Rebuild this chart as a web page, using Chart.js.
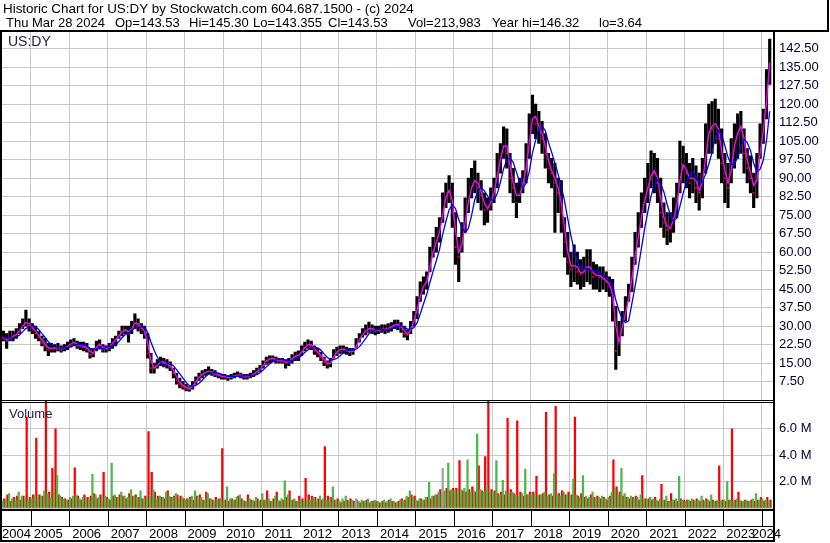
<!DOCTYPE html>
<html lang="en">
<head>
<meta charset="UTF-8">
<title>Historic Chart for US:DY</title>
<script src="https://cdn.jsdelivr.net/npm/chart.js"></script>
<style>
  body { margin: 0; background: #fff; }
  #chart { display: block; }
</style>
</head>
<body>
<canvas id="chart" width="830" height="543"></canvas>
<script>
// one bar per month, Mar 2004 .. Mar 2024
const firstYear = 2004;
const firstMonth = 2; // 0 = January

const priceHigh = [
  28,28,27,28,28,29,31,33,36.5,33,
  31,30,28,26,25,23,23,22.5,23,22,22.5,23.5,
  24.5,25,24,23.5,23.5,23,21,21,24,24.5,22.5,22,
  23,25,26,28,30,30,30,32,35,33,31,30,
  27,19,15,16.5,17.5,17,16.5,15.5,13,11,9,7.5,
  6.5,5.5,7.5,9.5,11,12,12.5,13.5,12.5,12,11,10.5,
  10.5,10,10.5,11,11.5,11,10.5,10.5,11,12,13,14,
  16,17.5,18,18,17.5,17,17,16.5,17,18.5,19.5,20,
  22,23.5,24.5,24,22,21,19.5,17.5,16,17,20.5,21.5,
  22,22,21.5,21,21,25,27,29,30.5,31.7,30.5,30,
  30,30.5,30.5,31,31.5,32.5,32.5,31.5,30,28.5,32,36,
  42,48,50,52,62,66,70,74,84,88,91,88,
  76,66,72,82,90,94,97,92,89,84,82,86,
  90,100,104,110.8,110,100,94,88,90,93,104,116,
  123.6,120,117,113,108,100,98,96,90,89,74,68,
  60,63,60,57,58,61,61,56,55,54,54,52,
  50,49,38,32,36,42,47,58,68,76,84,90,
  96,101,100,98,90,80,76,76,82,88,105,103,
  100,96,98,95,92,98,112,120,121,122,118,110,
  100,96,106,112,116,117,110,102,99,92,100,112,
  118,134,146.3
];
const priceLow = [
  23,24,21,24,24,25,27,29,30,28,
  27,25,24,22,20,18,19.5,19.5,20,19.5,20,20.5,
  21.5,22,21,20.5,20,19.5,17,17.5,20,21,19.5,19.5,
  20,21,22,25,26,27,23.5,27,29,28,27,25,
  17,11,11,13,14,13.5,13,12,9,6.5,5,4.5,
  3.8,3.64,4.5,6.5,8,9,10,10.5,10,9.5,9,8.5,
  8.5,8,8.5,9,9.5,9,8.5,8.5,9,9.5,10.5,11.5,
  13,14.5,15,15.5,15,15,15,13,14,15,16,16,
  18,20,21,20.5,18.5,17.5,16,14,13,13.5,17,18,
  19,19,18.5,18,18.5,21.5,23.5,25.5,26.5,27.5,27,26.5,
  27,27.5,27,27.5,28,29,28.5,27.5,25.5,24.4,27,30,
  33,40,43,45,52,58,60,64,72,78,80,70,
  55,48,60,68,76,82,84,80,77,71,72,77,
  80,86,92,98,94,84,80,74,80,84,88,98,
  108,106,104,100,94,88,86,68,76,68,58,51,
  46,48,47,45,46,48,47,45,45,44,45,44,
  42,32,12.5,18,26,32,40,44,55,62,70,76,
  80,86,84,80,70,66,63,64,68,74,84,88,
  86,82,84,80,77,82,92,100,100,104,98,88,
  80,78,88,94,98,100,92,88,84,78,82,98,
  104,114,128
];
const priceClose = [
  26,25,24,26,26,27,29,31,32,30,
  29,27,25.5,23.5,22,20.5,21.5,21,21.5,20.5,21.5,22,
  23.5,23.5,22,22,21.5,21,18.5,19.5,23,22.5,20.5,21,
  22,24,25,27,28.5,28.5,27,30.5,32,30,29,27,
  19,13,13,15,16,15,14.5,13.5,11,8,6.5,5.5,
  5,4.5,6.5,8.5,10,11,11.5,12,11,10.5,10,9.5,
  9.5,9,9.5,10,10.5,10,9.5,9.5,10,11,12,13,
  15,16.5,17,17,16,16,16,15,16,17.5,18,18.5,
  20.5,22,23,22,20,19,17.5,15.5,14.5,15.5,19,20,
  21,20.5,20,19.5,20,23.5,25.5,27.5,28.5,29.5,28.5,28,
  28.5,29,28.5,29.5,30,31,30.5,29.5,27,26.5,30,34,
  39,45,47,49,58,62,66,70,80,84,86,76,
  62,58,68,76,84,88,90,86,83,77,78,82,
  86,95,100,106,100,90,86,80,86,89,98,110,
  118,112,110,106,100,94,92,88,84,76,64,56,
  53,56,52,51,53,55,53,50,51,50,49,48,
  46,40,20,27,32,38,44,54,62,70,78,84,
  88,94,92,88,76,72,69,70,76,82,96,95,
  92,88,92,86,84,92,104,112,110,114,106,96,
  90,86,100,106,110,112,100,94,90,84,94,106,
  112,130,143.5
];

// volume in millions of shares
const volUp = [
  .8,.5,.6,1.1,.7,.6,1.2,.9,.7,.6,
  .7,1.0,.8,.9,1.3,1.1,.8,1.2,2.5,.9,.7,.6,
  .8,.9,1.0,.7,.8,.6,.7,2.55,1.0,.8,.6,.9,
  .7,3.4,1.0,.8,1.2,.9,.8,1.4,.9,.8,1.3,.7,
  .8,.9,1.4,.7,.9,.8,1.2,.9,.8,1.1,.7,.8,
  .6,.7,.9,1.3,.7,.8,.6,1.1,.7,.5,.6,.7,
  .5,1.6,.7,.6,.8,1.0,.6,.5,.7,.6,.8,.5,
  1.1,.6,.7,.5,.9,.6,.7,2.05,1.0,.6,.7,.5,
  .6,.5,.7,.6,.8,.5,.9,.7,.6,.5,1.6,.6,
  .5,.7,.9,.5,.6,.4,.5,.6,.5,.7,.5,.6,
  .5,.4,.6,.5,.7,.5,.4,.6,.5,.9,1.3,.8,
  .6,.7,.6,.8,1.95,.9,1.0,1.2,1.0,1.3,3.4,1.4,
  1.3,1.2,1.4,1.5,3.65,1.2,1.3,5.6,1.4,1.2,1.6,1.3,
  1.2,3.6,1.0,2.1,1.3,1.1,1.2,1.0,.9,1.1,2.95,1.0,
  1.0,1.1,.9,1.0,1.2,.9,1.1,2.6,1.0,.9,1.2,1.0,
  .9,2.2,1.0,.8,2.45,.9,.8,1.2,.7,.8,.9,.7,
  .8,1.2,1.5,1.0,3.0,1.1,.8,.9,.7,.8,1.0,.7,
  .6,.8,.7,.6,.7,.6,.9,.5,.6,.7,2.4,.6,
  .5,.6,.7,.5,.6,.9,.5,.6,1.0,.5,.6,.5,
  .6,2.0,.6,.5,.7,.6,.5,.6,.5,.7,1.1,.6,
  .7,.6,.5
];
const volDown = [
  .6,.7,1.0,.5,.8,.9,.6,.9,6.9,.8,
  1.0,5.3,1.0,.9,8.5,1.2,3.0,6.0,1.0,.8,.7,.6,
  .7,3.05,.9,.6,1.0,.8,.9,1.1,.7,1.0,2.7,.8,
  .6,.9,.8,1.0,.9,.7,1.1,.9,1.0,.8,.7,.9,
  5.8,2.7,1.2,.9,.8,.7,1.3,.8,.9,1.0,.9,.7,
  .7,.8,.6,.9,1.0,.6,1.2,.7,.6,.8,.7,4.5,
  .6,.5,.7,.6,.9,.7,.5,1.0,.6,.5,.7,.6,
  .6,1.3,.5,.7,1.2,.5,.6,.8,1.3,.6,.5,.9,
  .7,2.25,1.0,.9,.8,.7,.6,4.65,.9,.8,.6,.7,
  .4,.5,.6,.7,.5,.6,.4,.5,.6,.4,.5,.5,
  .4,.5,.4,.6,.5,.4,.5,.7,.6,.8,1.0,.9,
  .5,.7,.6,.8,.7,.9,1.0,1.4,1.2,1.5,1.3,1.5,
  1.5,3.6,1.3,1.2,1.4,1.6,1.2,3.2,1.3,3.9,8.5,1.4,
  1.3,1.1,1.2,1.0,6.8,1.4,1.1,6.6,1.2,.9,1.0,1.2,
  1.2,2.4,1.0,1.1,7.25,1.0,.9,7.7,1.1,1.3,1.0,1.2,
  1.0,6.9,.9,1.1,.8,.7,1.0,.8,.9,.7,.8,.6,
  .9,3.65,1.6,1.2,.9,.8,.7,.8,.9,.6,2.45,.7,
  .7,.6,.8,.5,1.8,.6,.5,1.1,.6,.5,.7,.6,
  .6,.5,.6,.7,.5,.6,.7,.5,.6,.5,3.2,.6,
  .5,.6,6.0,.6,1.2,.5,.6,.5,.6,.5,.6,.8,
  .5,.8,.6
];
// unchanged-close volume (grey bars)
const volFlatMonths = ['2013-06', '2015-09'];
const volFlatValues = [0.7, 3.0];

const yearLabels = ['2004','2005','2006','2007','2008','2009','2010','2011','2012','2013','2014',
                    '2015','2016','2017','2018','2019','2020','2021','2022','2023','2024'];
const priceTicks = [7.5,15,22.5,30,37.5,45,52.5,60,67.5,75,82.5,90,97.5,105,112.5,120,127.5,135,142.5];
const volTicks = [2, 4, 6];
const volTickLabels = ['2.0 M', '4.0 M', '6.0 M'];

const headerTitle = 'Historic Chart for US:DY by Stockwatch.com 604.687.1500 - (c) 2024';
const headerFields = ['Thu Mar 28 2024', 'Op=143.53', 'Hi=145.30', 'Lo=143.355', 'Cl=143.53',
                      'Vol=213,983', 'Year hi=146.32', 'lo=3.64'];

const FONT = 'Arial, "Liberation Sans", sans-serif';
const monthPos = i => firstYear + (firstMonth + i + 0.5) / 12;
const xs = priceClose.map((_, i) => monthPos(i));

function movingAvg(n) {
  return priceClose.map((_, i) => {
    const w = priceClose.slice(Math.max(0, i - n + 1), i + 1);
    return { x: xs[i], y: w.reduce((a, b) => a + b, 0) / w.length };
  });
}

const downCloses = [];
priceClose.forEach((c, i) => { if (i > 0 && c < priceClose[i - 1]) downCloses.push({ x: xs[i], y: c }); });

const flatBars = volFlatMonths.map((m, i) => {
  const [yy, mm] = m.split('-').map(Number);
  return { x: yy + (mm - 0.5) / 12, y: volFlatValues[i] };
});

const frame = {
  id: 'frame',
  beforeDraw(chart) {
    const c = chart.ctx;
    c.save();
    c.fillStyle = '#fff';
    c.fillRect(0, 0, chart.width, chart.height);
    c.restore();
  },
  afterDraw(chart) {
    const c = chart.ctx, a = chart.chartArea, xScale = chart.scales.x;
    c.save();
    c.fillStyle = '#000';
    // header
    c.textBaseline = 'alphabetic';
    c.font = '13.4px ' + FONT;
    c.fillText(headerTitle, 3, 13);
    c.font = '13px ' + FONT;
    const fx = [6, 115, 189, 253, 328, 408, 492, 599];
    headerFields.forEach((t, i) => c.fillText(t, fx[i], 27));
    c.fillRect(0, 30, 829, 2);
    c.fillRect(827, 0, 2, 31);

    // frame lines
    c.fillRect(0, 30, 2, 512);
    c.fillRect(a.right, 30, 2, 512);
    c.fillRect(0, 400, a.right, 1);
    c.fillRect(0, 402, a.right, 1);
    c.fillRect(0, 509, a.right, 2);
    c.fillRect(0, 526, a.right, 1);
    c.fillRect(0, 540, a.right, 2);

    // pane titles
    c.fillStyle = '#1a1a4a';
    c.font = '14px ' + FONT;
    c.fillText('US:DY', 8, 46);
    c.font = '13px ' + FONT;
    c.fillText('Volume', 9, 418);

    // date strip
    c.fillStyle = '#000';
    c.font = '13px ' + FONT;
    yearLabels.forEach((lbl, i) => {
      let x;
      if (i === 0) {
        x = 2;
      } else {
        const px = xScale.getPixelForValue(+lbl);
        c.fillRect(Math.round(px), 511, 1, 15);
        x = Math.min(px + 3, 781 - c.measureText(lbl).width);
      }
      c.fillText(lbl, x, 538);
    });
    c.restore();
  }
};

new Chart(document.getElementById('chart'), {
  data: {
    datasets: [
      { type: 'line', data: movingAvg(5), yAxisID: 'y', borderColor: '#0000ff', borderWidth: 1.3, pointRadius: 0, tension: 0 },
      { type: 'line', data: movingAvg(2), yAxisID: 'y', borderColor: '#ff00ff', borderWidth: 1.4, pointRadius: 0, tension: 0 },
      { type: 'line', data: downCloses, yAxisID: 'y', showLine: false, pointStyle: 'rect', pointRadius: 1.2,
        pointBackgroundColor: '#ff0000', pointBorderWidth: 0 },
      { type: 'bar', data: priceLow.map((lo, i) => ({ x: xs[i], y: [lo, priceHigh[i]] })), yAxisID: 'y',
        backgroundColor: '#000', barThickness: 2.5, grouped: false },
      { type: 'bar', data: flatBars, yAxisID: 'yv', backgroundColor: '#a0a0a0', barThickness: 1.6, grouped: false },
      { type: 'bar', data: volUp.map((v, i) => ({ x: xs[i], y: v })), yAxisID: 'yv', stack: 'up',
        backgroundColor: '#4cb84c', barThickness: 1.6 },
      { type: 'bar', data: volDown.map((v, i) => ({ x: xs[i], y: v })), yAxisID: 'yv', stack: 'down',
        backgroundColor: '#ff0000', barThickness: 1.6 }
    ]
  },
  options: {
    responsive: false,
    animation: false,
    devicePixelRatio: 1,
    layout: { autoPadding: false, padding: { top: 30, left: 0, right: 0, bottom: 0 } },
    plugins: { legend: { display: false }, tooltip: { enabled: false } },
    scales: {
      x: {
        type: 'linear', min: 2004.202, max: 2024.294, offset: false,
        grid: { color: '#c8c8c8', drawTicks: false, offset: false },
        border: { display: false },
        ticks: { display: false },
        afterBuildTicks: s => { s.ticks = yearLabels.slice(1).map(l => ({ value: +l })); },
        afterFit: s => { s.height = 35; }
      },
      y: {
        type: 'linear', position: 'right', stack: 'panes', stackWeight: 370.2, min: 0, max: 150,
        afterBuildTicks: s => { s.ticks = [0, ...priceTicks, 150].map(v => ({ value: v })); },
        ticks: { autoSkip: false, padding: 6, color: '#000033', font: { family: FONT, size: 13 },
                 callback: v => priceTicks.includes(v) ? v.toFixed(2) : '' },
        grid: { color: '#c8c8c8', drawTicks: false },
        border: { display: false },
        afterFit: s => { s.width = 57; }
      },
      yv: {
        type: 'linear', position: 'right', stack: 'panes', stackWeight: 107.8, min: 0, max: 8.17,
        afterBuildTicks: s => { s.ticks = [0, ...volTicks, 8].map(v => ({ value: v })); },
        ticks: { autoSkip: false, padding: 6, color: '#000033', font: { family: FONT, size: 13 },
                 callback: v => { const k = volTicks.indexOf(v); return k >= 0 ? volTickLabels[k] : ''; } },
        grid: { color: '#c8c8c8', drawTicks: false },
        border: { display: false },
        afterFit: s => { s.width = 57; }
      }
    }
  },
  plugins: [frame]
});
</script>
</body>
</html>
